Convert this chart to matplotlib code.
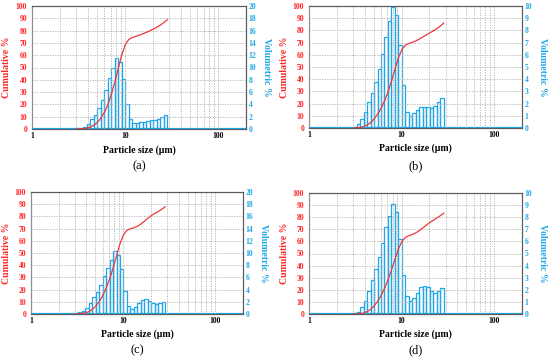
import matplotlib
matplotlib.use("Agg")
import matplotlib.pyplot as plt
from matplotlib.ticker import FixedLocator, NullFormatter

plt.rcParams['font.family'] = ['Liberation Serif', 'DejaVu Serif']

# particle size bin edges (um)
edges = [3.0, 3.27, 3.57, 3.89, 4.24, 4.63, 5.05, 5.50, 6.0, 6.54, 7.13, 7.78, 8.49, 9.25,
         10.09, 11.0, 12.0, 13.09, 14.27, 15.56, 16.97, 18.51, 20.18, 22.01, 24.0, 26.17, 28.54]

vol_a = [0.1, 0.2, 0.4, 0.8, 1.6, 2.3, 3.4, 4.7, 6.4, 8.3, 10.0, 11.5, 10.9, 8.1, 4.1, 1.6,
         0.9, 1.0, 1.1, 1.2, 1.3, 1.4, 1.5, 1.7, 2.0, 2.3]
vol_b = [0.1, 0.3, 0.7, 1.3, 2.1, 2.9, 3.8, 4.8, 6.1, 7.5, 8.8, 9.9, 9.3, 6.8, 3.5, 1.3,
         1.0, 1.2, 1.5, 1.7, 1.7, 1.7, 1.6, 1.8, 2.1, 2.5]
vol_c = [0.1, 0.3, 0.5, 1.0, 1.8, 2.8, 3.6, 4.8, 6.2, 7.6, 8.9, 10.3, 9.75, 7.3, 3.7, 1.3,
         0.8, 1.2, 1.8, 2.3, 2.4, 2.2, 1.8, 1.6, 1.8, 2.0]
vol_d = [0.1, 0.2, 0.55, 1.05, 1.9, 2.85, 3.75, 4.75, 5.9, 7.15, 8.1, 9.05, 8.45, 6.2, 3.25, 1.45,
         1.05, 1.35, 1.75, 2.25, 2.35, 2.2, 1.9, 1.75, 1.9, 2.15]

# cumulative % read at the bin edges
cum_a = [0, 0.1, 0.3, 0.7, 1.5, 3.1, 5.4, 8.8, 13.5, 19.9, 28.2, 38.2, 49.7, 60.6, 68.7, 72.8,
         74.4, 75.3, 76.3, 77.4, 78.6, 79.9, 81.3, 82.8, 84.5, 86.5, 88.8]
cum_b = [0, 0.1, 0.4, 1.1, 2.4, 4.5, 7.4, 11.2, 16.0, 22.1, 29.6, 38.4, 48.3, 57.6, 64.4, 67.9,
         69.2, 70.2, 71.4, 72.9, 74.6, 76.3, 78.0, 79.6, 81.4, 83.5, 86.0]
cum_c = [0, 0.1, 0.4, 0.9, 1.9, 3.7, 6.5, 10.1, 14.9, 21.1, 28.7, 37.6, 47.9, 57.6, 65.0, 68.6,
         69.9, 70.7, 71.9, 73.7, 76.0, 78.4, 80.6, 82.4, 84.0, 85.8, 87.8]
cum_d = [0, 0.1, 0.3, 0.85, 1.9, 3.8, 6.65, 10.4, 15.15, 21.05, 28.2, 36.3, 45.35, 53.8, 60.0, 63.25,
         64.7, 65.75, 67.1, 68.85, 71.1, 73.45, 75.65, 77.55, 79.3, 81.2, 83.35]

panels = [
    ("(a)", vol_a, cum_a, 20, 2, [32, 6, 246, 129]),
    ("(b)", vol_b, cum_b, 10, 1, [309, 6, 522, 128]),
    ("(c)", vol_c, cum_c, 20, 2, [31, 192, 243, 314]),
    ("(d)", vol_d, cum_d, 10, 1, [309, 193, 522, 314]),
]

RED = '#ff2626'
LINE_RED = '#e8383d'
BLUE = '#1ea7e8'
W, H = 550, 358

fig = plt.figure(figsize=(5.5, 3.58), dpi=100)

for name, vol, cum, vmax, vstep, box in panels:
    x0, y0, x1, y1 = box
    ax = fig.add_axes([x0 / W, 1 - y1 / H, (x1 - x0) / W, (y1 - y0) / H])
    ax2 = ax.twinx()
    ax.set_zorder(ax2.get_zorder() + 1)
    ax.patch.set_visible(False)

    widths = [edges[i + 1] - edges[i] for i in range(len(vol))]
    ax2.bar(edges[:-1], vol, width=widths, align='edge', facecolor='none',
            edgecolor=BLUE, linewidth=0.9)
    ax2.axhline(0, color=BLUE, linewidth=1.6, zorder=5)
    ax2.set_ylim(0, vmax)
    ax2.set_yticks(range(0, vmax + 1, vstep))

    ax.plot(edges, cum, color=LINE_RED, linewidth=0.9)
    ax.set_xscale('log')
    ax.set_xlim(1, 200)
    ax.set_ylim(0, 100)
    ax.set_yticks(range(0, 101, 10))
    ax.set_xticks([1, 10, 100])
    ax.set_xticklabels(['1', '10', '100'])
    ax.xaxis.set_minor_locator(FixedLocator([2, 3, 4, 5, 6, 7, 8, 9, 20, 30, 40, 50, 60, 70, 80, 90]))
    ax.xaxis.set_minor_formatter(NullFormatter())
    ax.grid(True, which='both', axis='x', color='#b0b0b0', linestyle=(0, (1.5, 1.5)), linewidth=0.6)
    ax.grid(True, which='major', axis='y', color='#b0b0b0', linestyle=(0, (1.5, 1.5)), linewidth=0.6)

    ax.tick_params(axis='both', which='both', length=0)
    ax.tick_params(axis='y', colors=RED, labelsize=5.5, pad=3.5)
    ax.tick_params(axis='x', colors='black', labelsize=5.5, pad=2.5)
    ax2.tick_params(axis='y', length=0, colors=BLUE, labelsize=5.5, pad=2)
    for t in ax.get_yticklabels() + ax.get_xticklabels() + ax2.get_yticklabels():
        t.set_fontweight('bold')

    for a in (ax, ax2):
        for s in a.spines.values():
            s.set_color('#5a5a5a')
            s.set_linewidth(0.8)
        a.spines['left'].set_color('#909090')

    ax.set_ylabel("Cumulative %", color=RED, fontsize=7, fontweight='bold', va='center')
    ax.yaxis.set_label_coords(-0.117, 0.5)
    ax2.set_ylabel("Volumetric %", color=BLUE, fontsize=7, fontweight='bold', rotation=270, va='center')
    ax2.yaxis.set_label_coords(1.098, 0.5)
    ax.set_xlabel("Particle size (μm)", fontsize=7, fontweight='bold')
    ax.xaxis.set_label_coords(0.5, -0.13)

    ly = 166 if y0 < 100 else 350
    fig.text((x0 + x1) / 2 / W, 1 - ly / H, name, fontsize=9, ha='center', va='center')

fig.savefig("out.png", dpi=100)
